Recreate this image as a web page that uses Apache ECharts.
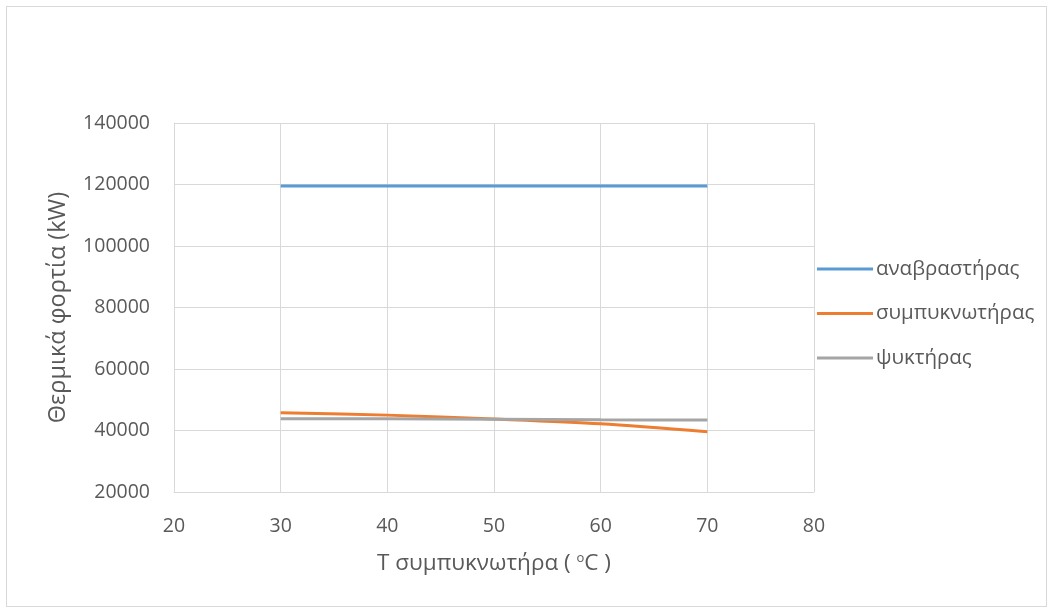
<!DOCTYPE html>
<html>
<head>
<meta charset="utf-8">
<script src="https://cdn.jsdelivr.net/npm/echarts@6/dist/echarts.min.js"></script>
<style>
html,body{margin:0;padding:0;background:#fff;}
#frame{position:absolute;left:6px;top:6px;width:1041px;height:601px;border:1px solid #d9d9d9;box-sizing:border-box;}
#chart{position:absolute;left:0;top:0;width:1054px;height:615px;}
</style>
</head>
<body>
<div id="frame"></div>
<div id="chart"></div>
<script>
// Condenser temperature (°C)
const temps = [30, 40, 50, 60, 70];
// Heat loads (kW)
const reboiler = [119500, 119500, 119500, 119500, 119500];
const condenser = [45800, 45000, 43750, 42200, 39600];
const cooler = [43850, 43800, 43650, 43500, 43400];
const seriesNames = ['αναβραστήρας', 'συμπυκνωτήρας', 'ψυκτήρας'];
const colors = ['#5b9bd5', '#ed7d31', '#a5a5a5'];

const font = '"Open Sans", "Liberation Sans", sans-serif';
const textColor = '#595959';

const chart = echarts.init(document.getElementById('chart'), null, {renderer: 'canvas'});

function pairs(ys) { return temps.map((t, i) => [t, ys[i]]); }

chart.setOption({
  animation: false,
  textStyle: {fontFamily: font},
  grid: {left: 174, right: 240, top: 123, bottom: 123, containLabel: false},
  legend: {
    orient: 'vertical',
    left: 812,
    top: 252,
    itemWidth: 56,
    itemHeight: 3,
    itemGap: 20.5,
    icon: 'rect',
    textStyle: {color: textColor, fontSize: 20.5, lineHeight: 24, fontFamily: font, padding: [0, 0, 0, -2]},
    data: seriesNames
  },
  xAxis: {
    type: 'value',
    min: 20, max: 80, interval: 10,
    name: 'T συμπυκνωτήρα ( {sup|o}C )',
    nameLocation: 'middle',
    nameGap: 60,
    nameTextStyle: {
      color: textColor, fontSize: 22.5, fontFamily: font,
      rich: {sup: {fontSize: 13, verticalAlign: 'top', color: textColor, padding: [0, 0, 10, 0]}}
    },
    axisLine: {show: true, lineStyle: {color: '#d9d9d9', width: 1}},
    axisTick: {show: false},
    axisLabel: {color: textColor, fontSize: 19.5, margin: 24, fontFamily: font},
    splitLine: {show: true, lineStyle: {color: '#d9d9d9', width: 1}}
  },
  yAxis: {
    type: 'value',
    min: 20000, max: 140000, interval: 20000,
    name: 'Θερμικά φορτία (kW)',
    nameLocation: 'middle',
    nameGap: 104,
    nameTextStyle: {color: textColor, fontSize: 23.5, fontFamily: font},
    axisLine: {show: true, lineStyle: {color: '#d9d9d9', width: 1}},
    axisTick: {show: false},
    axisLabel: {color: textColor, fontSize: 19.5, margin: 24, fontFamily: font, formatter: v => String(v)},
    splitLine: {show: true, lineStyle: {color: '#d9d9d9', width: 1}}
  },
  series: [
    {name: seriesNames[0], type: 'line', data: pairs(reboiler), smooth: 0.3, symbol: 'none',
     lineStyle: {color: colors[0], width: 3}, itemStyle: {color: colors[0]}},
    {name: seriesNames[1], type: 'line', data: pairs(condenser), smooth: 0.3, symbol: 'none',
     lineStyle: {color: colors[1], width: 3}, itemStyle: {color: colors[1]}},
    {name: seriesNames[2], type: 'line', data: pairs(cooler), smooth: 0.3, symbol: 'none',
     lineStyle: {color: colors[2], width: 3}, itemStyle: {color: colors[2]}}
  ]
});
</script>
</body>
</html>
